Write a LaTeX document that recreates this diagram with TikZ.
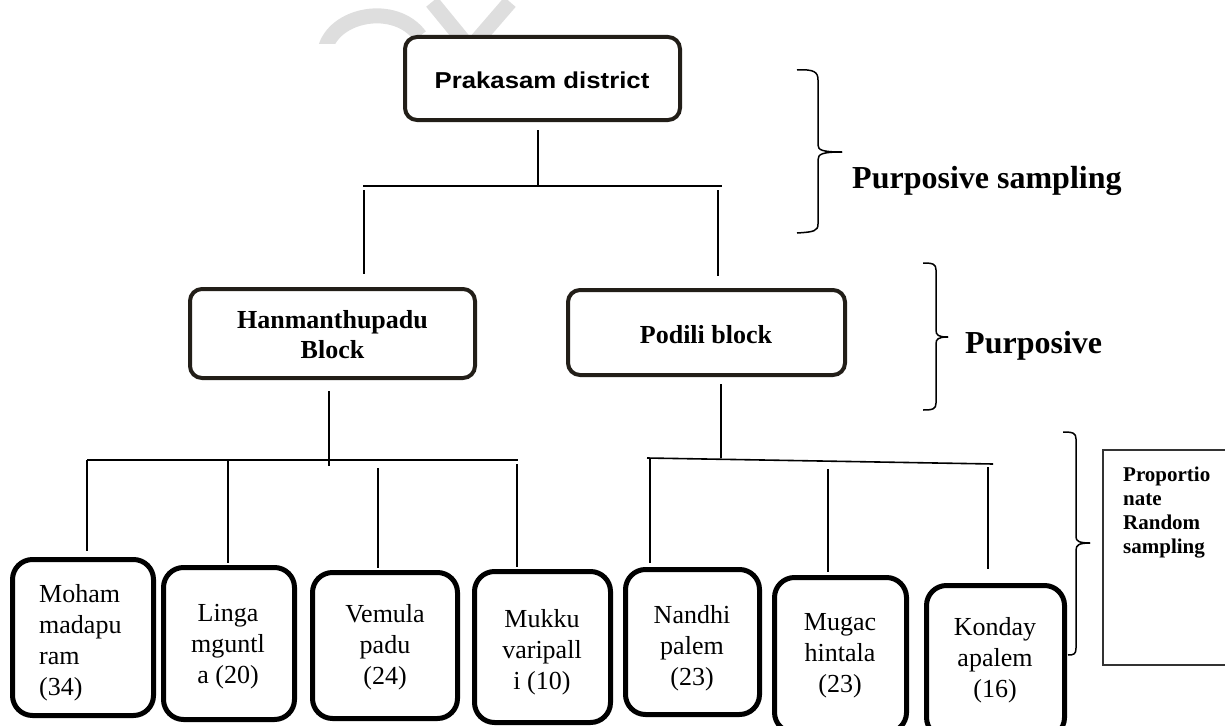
\documentclass[tikz,border=0pt]{standalone}
\usepackage{fontspec}
\setmainfont{Liberation Serif}
\newfontfamily\arialfont{Liberation Sans}
\definecolor{boxdark}{HTML}{221E18}
\definecolor{propgray}{HTML}{333333}
\definecolor{wmgray}{HTML}{DEDEDE}
\begin{document}
\begin{tikzpicture}[x=1pt,y=-1pt,
  conn/.style={line width=1.6pt, draw=black},
  topbox/.style={draw=boxdark, line width=4pt, rounded corners=12pt, fill=white, inner sep=0pt},
  villbox/.style={draw=black, line width=5pt, rounded corners=20pt, fill=white, inner sep=0pt},
  vtext/.style={font=\fontsize{26}{31}\selectfont, align=center, inner sep=0pt},
  btext/.style={font=\bfseries\fontsize{26}{30}\selectfont, align=center, inner sep=0pt},
  bracepath/.style={line width=1.5pt, line join=round},
  sidetext/.style={font=\bfseries\fontsize{32}{36}\selectfont, inner sep=0pt},
  wm/.style={draw=wmgray, line width=15pt}
]
\useasboundingbox (0,0) rectangle (1225,725);

% faint watermark
\begin{scope}
  \clip (0,0) rectangle (1225,44);
  \draw[wm] (325,50) .. controls (333,14) and (395,2) .. (420,36);
  \draw[wm] (432,2) -- (468,46);
  \draw[wm] (510,2) -- (472,46);
\end{scope}

% boxes
\node[topbox, minimum width=275pt, minimum height=83pt] (pk) at (542.5,78.5) {};
\node[topbox, minimum width=285pt, minimum height=89pt] (hb) at (332.5,333.5) {};
\node[topbox, minimum width=277pt, minimum height=85pt] (pb) at (706.5,332.5) {};

\node[villbox, minimum width=141pt, minimum height=156pt] (v1) at (83,637.5) {};
\node[villbox, minimum width=131pt, minimum height=152pt] (v2) at (229,643.5) {};
\node[villbox, minimum width=145pt, minimum height=146pt] (v3) at (385,645.5) {};
\node[villbox, minimum width=136pt, minimum height=151pt] (v4) at (542.5,647) {};
\node[villbox, minimum width=134pt, minimum height=145pt] (v5) at (692.5,642) {};
\node[villbox, minimum width=132pt, minimum height=155pt] (v6) at (840.5,655) {};
\node[villbox, minimum width=138pt, minimum height=152pt] (v7) at (995.5,661.5) {};

\node[draw=propgray, line width=1.2pt, minimum width=132pt, minimum height=215pt, inner sep=0pt] (prop) at (1169,557.5) {};

% texts
\node[inner sep=0pt, anchor=base] (pkt) at (542,88)
  {\scalebox{1.12}[1]{\arialfont\bfseries\fontsize{23}{27}\selectfont Prakasam district}};
\node[btext, anchor=north] (hbt) at (332.5,310) {Hanmanthupadu\\Block};
\node[btext, anchor=base] (pbt) at (706,343) {Podili block};

\node[vtext, align=left, anchor=north west] (t1) at (39,584) {Moham\\madapu\\ram\\(34)};
\node[vtext, anchor=north] (t2) at (228,604) {Linga\\mguntl\\a (20)};
\node[vtext, anchor=north] (t3) at (385,604) {Vemula\\padu\\(24)};
\node[vtext, anchor=north] (t4) at (542,609) {Mukku\\varipall\\i (10)};
\node[vtext, anchor=north] (t5) at (692,605) {Nandhi\\palem\\(23)};
\node[vtext, anchor=north] (t6) at (840,613) {Mugac\\hintala\\(23)};
\node[vtext, anchor=north] (t7) at (995,617) {Konday\\apalem\\(16)};

\node[font=\bfseries\fontsize{21}{24}\selectfont, align=left, inner sep=0pt, anchor=north west] (propt) at (1123,467)
  {Proportio\\nate\\Random\\sampling};

\node[sidetext, anchor=base west] (ps) at (852,188) {Purposive sampling};
\node[sidetext, anchor=base west] (pp) at (965,353) {Purposive};

% connector coordinates
\coordinate (pkdrop) at (538,130);
\coordinate (busL) at (363,186);
\coordinate (busR) at (722,186);
\coordinate (dLa) at (364,190);
\coordinate (dLb) at (364,274);
\coordinate (dRa) at (718,190);
\coordinate (dRb) at (718,276);

\coordinate (hdrop) at (329,391);
\coordinate (hdropb) at (329,466);
\coordinate (bus2L) at (87,460);
\coordinate (bus2R) at (518,460);
\coordinate (d1b) at (87,551);
\coordinate (d2a) at (228,460);
\coordinate (d2b) at (228,563);
\coordinate (d3a) at (378,468);
\coordinate (d3b) at (378,568);
\coordinate (d4a) at (517,464);
\coordinate (d4b) at (517,567);

\coordinate (pdrop) at (721,384);
\coordinate (pdropb) at (721,458);
\coordinate (bus3L) at (647,458);
\coordinate (bus3R) at (993,464);
\coordinate (d5a) at (650,458);
\coordinate (d5b) at (650,563);
\coordinate (d6a) at (828,469);
\coordinate (d6b) at (828,572);
\coordinate (d7a) at (988,467);
\coordinate (d7b) at (988,569);

% connectors
\draw[conn] (pkdrop) -- (pkdrop |- busL);
\draw[conn] (busL) -- (busR);
\draw[conn] (dLa) -- (dLb);
\draw[conn] (dRa) -- (dRb);

\draw[conn] (hdrop) -- (hdropb);
\draw[conn] (bus2L) -- (bus2R);
\draw[conn] (bus2L) -- (d1b);
\draw[conn] (d2a) -- (d2b);
\draw[conn] (d3a) -- (d3b);
\draw[conn] (d4a) -- (d4b);

\draw[conn] (pdrop) -- (pdropb);
\draw[conn] (bus3L) -- (bus3R);
\draw[conn] (d5a) -- (d5b);
\draw[conn] (d6a) -- (d6b);
\draw[conn] (d7a) -- (d7b);

% braces
\draw[bracepath] (797,70) .. controls (814,69) and (818,72) .. (818,80) -- (818,145)
  .. controls (818,150) and (822,152) .. (842,152);
\draw[bracepath] (842,152) .. controls (822,152) and (818,154) .. (818,160) -- (818,224)
  .. controls (818,231) and (814,232) .. (797,233);

\draw[bracepath] (923,263) .. controls (933,263) and (936,264) .. (936,270) -- (936,330)
  .. controls (936,335) and (938,337) .. (948,337);
\draw[bracepath] (948,337) .. controls (938,337) and (936,339) .. (936,344) -- (936,403)
  .. controls (936,409) and (933,410) .. (923,410);

\draw[bracepath] (1063,432) .. controls (1073,432) and (1076,433) .. (1076,439) -- (1076,537)
  .. controls (1076,541) and (1079,543) .. (1090,543);
\draw[bracepath] (1090,543) .. controls (1079,543) and (1076,545) .. (1076,550) -- (1076,648)
  .. controls (1076,654) and (1074,655) .. (1068,655);
\end{tikzpicture}
\end{document}
